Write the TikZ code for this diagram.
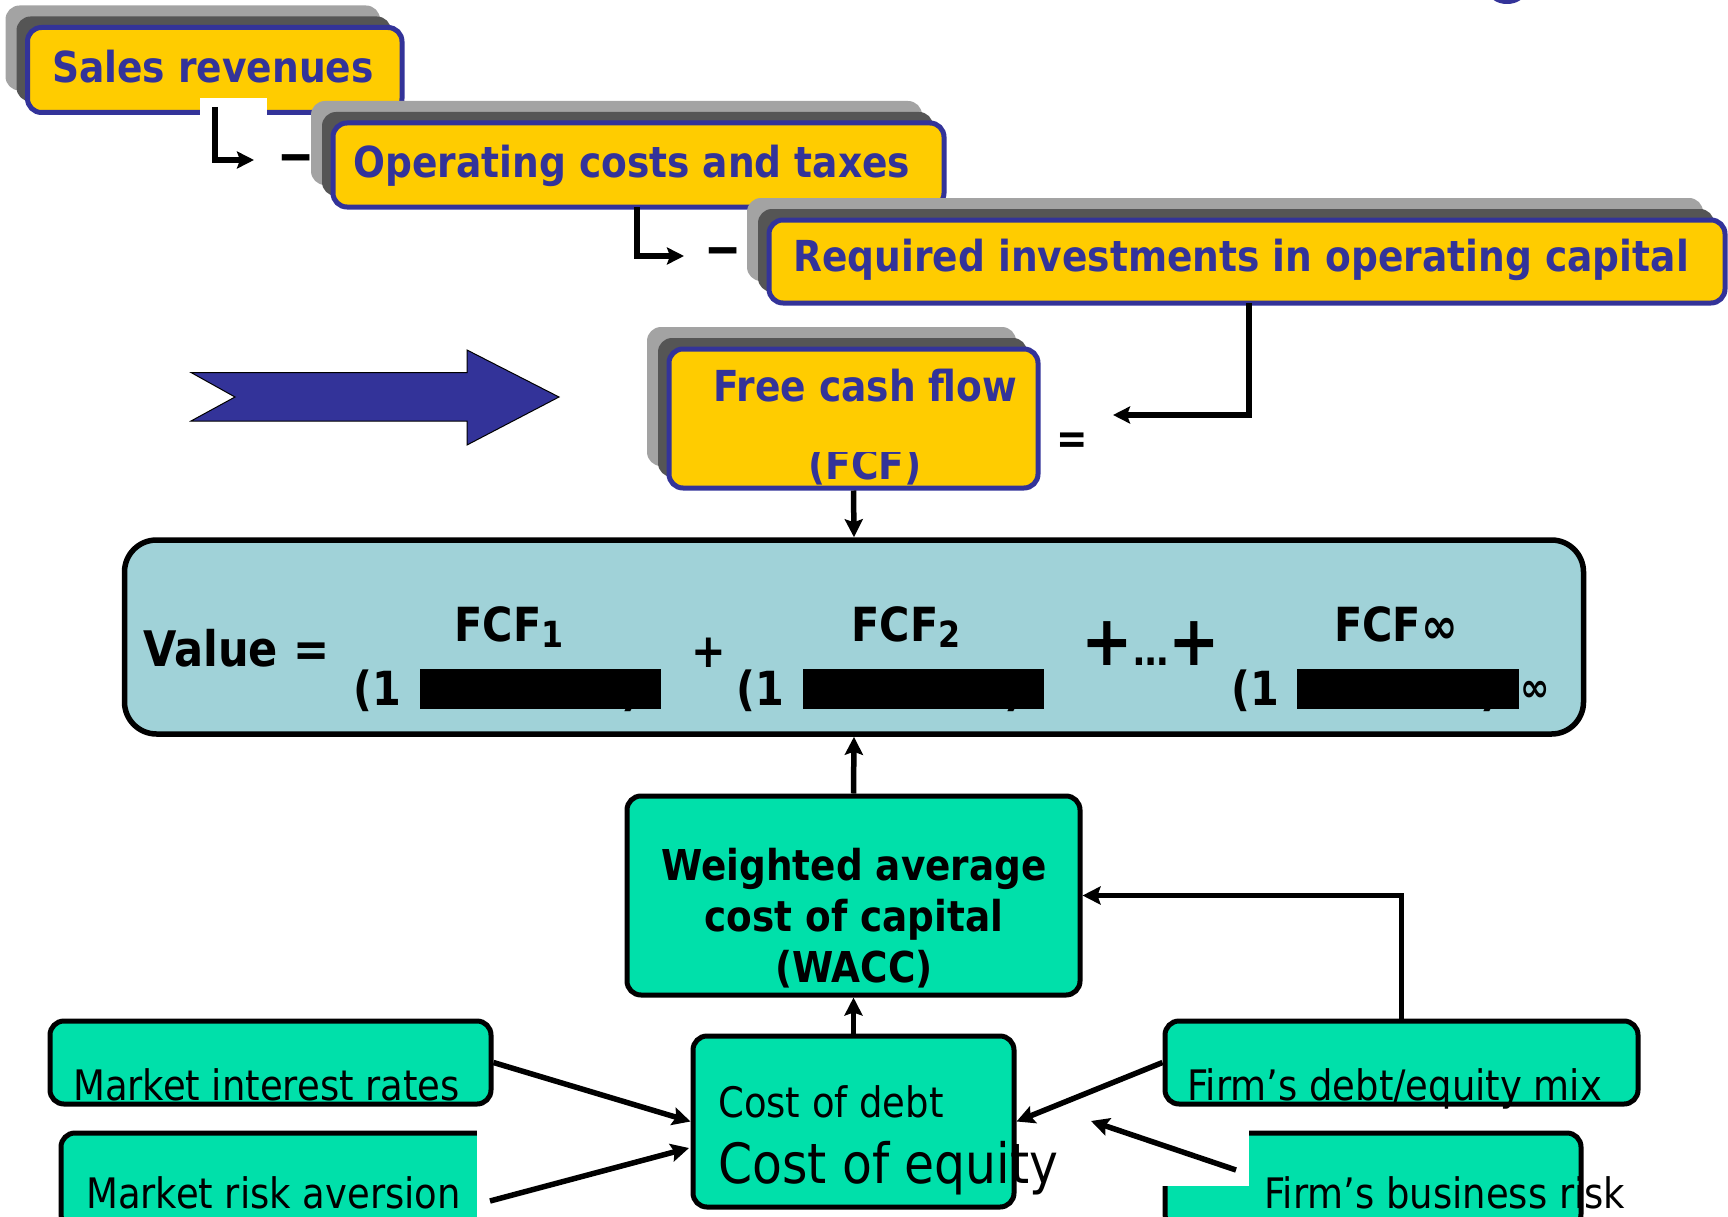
\documentclass[tikz,border=0pt]{standalone}
\usepackage{fontspec}
\setmainfont[FakeStretch=0.88]{DejaVu Sans}
\usetikzlibrary{arrows.meta,fit}
\definecolor{ylw}{HTML}{FFCC00}
\definecolor{navy}{HTML}{333399}
\definecolor{valfill}{HTML}{A0D2D8}
\definecolor{mint}{HTML}{00E0AA}
\definecolor{shl}{HTML}{A3A3A3}
\definecolor{shd}{HTML}{555555}
\tikzset{
  ybox/.style={draw=navy, fill=ylw, line width=5pt, rounded corners=14pt, inner sep=0pt},
  gbox/.style={draw=black, fill=mint, line width=5pt, rounded corners=14pt, inner sep=0pt},
  vbox/.style={draw=black, fill=valfill, line width=5.5pt, rounded corners=32pt, inner sep=0pt},
  hd/.style={font=\fontsize{42.7}{50}\selectfont\bfseries, text=navy, inner sep=0pt},
  vt/.style={font=\fontsize{47}{55}\selectfont\bfseries, text=black, inner sep=0pt},
  rg/.style={font=\fontsize{42}{50}\selectfont, text=black, inner sep=0pt},
  arr/.style={draw=black, line width=5.5pt, -{Stealth[length=18pt,width=18pt,inset=3pt]}},
  arrs/.style={draw=black, line width=5.5pt, -{Stealth[length=17pt,width=17pt,inset=3pt]}},
  blk/.style={fill=black},
  wht/.style={fill=white},
}
\newcommand{\shbox}[5]{%
  \fill[shl, rounded corners=14pt] ({#2-22},{#3-22}) rectangle ({#4-22},{#5-22});
  \fill[shd, rounded corners=14pt] ({#2-11},{#3-11}) rectangle ({#4-11},{#5-11});
  \node[ybox, fit={(#2,#3) (#4,#5)}] (#1) {};
}
\newcommand{\subs}[1]{\raisebox{-6pt}{\fontsize{36}{36}\selectfont #1}}
\begin{document}
\begin{tikzpicture}[x=1pt,y=-1pt]
\useasboundingbox (0,0) rectangle (1728,1217);
\clip (0,0) rectangle (1728,1217);
% top-right blue fragment
\fill[navy] (1507,-8) ellipse (18 and 12);

% yellow boxes
\shbox{sales}{27.5}{27.5}{402}{112.5}
\node[hd, anchor=base west] (tsales) at (52,83) {Sales revenues};
\fill[wht] (200,98) rectangle (267,126);
\shbox{oper}{333}{123}{944}{207}
\node[hd, anchor=base west] (toper) at (353,178) {Operating costs and taxes};
\shbox{req}{769}{220}{1725}{303}
\node[hd, anchor=base west] (treq) at (793,271) {Required investments in operating capital};
\shbox{fcf}{669}{349}{1038}{488}
\node[hd, anchor=base west] (tfcf) at (713,401) {Free cash flow};
\node[hd, anchor=base] (tfcf2) at (865,479) {(FCF)};
\fill[ylw] (790,436) rectangle (940,452);

% elbows and dashes
\coordinate (e1a) at (215,107);
\coordinate (e1b) at (254,160);
\draw[arrs] (e1a) |- (e1b);
\node[hd, text=black, font=\fontsize{50}{50}\selectfont\bfseries] (d1) at (296,163) {\scalebox{1.6}[1]{–}};
\coordinate (e2a) at (637,207);
\coordinate (e2b) at (684,256);
\draw[arrs] (e2a) |- (e2b);
\node[hd, text=black, font=\fontsize{50}{50}\selectfont\bfseries] (d2) at (723,256) {\scalebox{1.6}[1]{–}};
\coordinate (rqa) at (1249,303);
\coordinate (rqb) at (1113,415);
\draw[arrs] (rqa) |- (rqb);
\node[hd, text=black, anchor=base] (eq) at (1072,453) {=};

% big arrow
\filldraw[fill=navy, draw=black, line width=1pt]
  (191,372.5) -- (467,372.5) -- (467,350) -- (559,397) -- (467,445)
  -- (467,421) -- (191,421) -- (235,397) -- cycle;

% value box
\node[vbox, fit={(124.5,540) (1583.5,734)}] (value) {};
\node[vt, font=\fontsize{49}{55}\selectfont\bfseries, anchor=base west] (tval) at (143,666) {Value =};
\node[vt, anchor=base] (f1) at (509,641) {FCF\subs{1}};
\node[vt, anchor=base west] (p1) at (353,705) {(1};
\node[vt, anchor=base] (q1) at (631,705) {)};
\fill[blk] (420,669) rectangle (661,709);
\node[vt, anchor=base] (pl1) at (709,667) {+};
\node[vt, anchor=base] (f2) at (906,641) {FCF\subs{2}};
\node[vt, anchor=base west] (p2) at (736,705) {(1};
\node[vt, anchor=base] (q2) at (1014,705) {)};
\fill[blk] (803,669) rectangle (1044,709);
\node[anchor=base, inner sep=0pt] (pl2) at (1151,665) {\bfseries\fontsize{70}{70}\selectfont +\fontsize{40}{40}\selectfont…\fontsize{70}{70}\selectfont+};
\node[vt, anchor=base] (f3) at (1396,641) {FCF\raisebox{-2pt}{\fontsize{50}{50}\selectfont ∞}};
\node[vt, anchor=base west] (p3) at (1231,705) {(1};
\node[vt, anchor=base] (q3) at (1490,705) {)};
\fill[blk] (1297,669) rectangle (1519,709);
\node[vt, font=\fontsize{40}{40}\selectfont\bfseries] (inf) at (1535,691) {∞};

% WACC
\node[gbox, fit={(627,796) (1080,995)}] (wacc) {};
\node[font=\fontsize{42.5}{51}\selectfont\bfseries, align=center, inner sep=0pt] (twacc) at (854,918.5) {Weighted average\\cost of capital\\(WACC)};

% cost box
\node[gbox, fit={(693,1036) (1014,1207)}] (cost) {};
\node[rg, anchor=base west] (tcd) at (718,1117) {Cost of debt};
\node[rg, font=\fontsize{55.5}{60}\selectfont, anchor=base west] (tce) at (718,1183) {Cost of equity};

% left boxes
\node[gbox, fit={(50,1021) (491,1104)}] (mir) {};
\node[rg, anchor=base west] (tmir) at (73,1100) {Market interest rates};
\node[gbox, fit={(61,1133) (510,1228)}] (mra) {};
\fill[wht] (477,1128) rectangle (530,1217);
\node[rg, anchor=base west] (tmra) at (86,1208) {Market risk aversion};

% right boxes
\node[gbox, fit={(1165,1021) (1638,1104)}] (fde) {};
\node[rg, anchor=base west] (tfde) at (1187,1100) {Firm’s debt/equity mix};
\node[gbox, fit={(1165,1133) (1581,1228)}] (fbr) {};
\fill[wht] (1160,1128) rectangle (1249,1186);
\node[rg, anchor=base west] (tfbr) at (1264,1208) {Firm’s business risk};

% connectors
\draw[arr] (fcf.south) -- (value.north);
\draw[arr] (wacc.north) -- (value.south);
\draw[arr] (cost.north) -- (wacc.south);
\draw[arr] (fde.north) |- (wacc.east);
\draw[arr] (mir.east) -- (cost.west);
\coordinate (mra1) at (490,1201);
\coordinate (c1) at (689,1148);
\draw[arr] (mra1) -- (c1);
\draw[arr] (fde.west) -- (cost.east);
\coordinate (fbr1) at (1236,1170);
\coordinate (c2) at (1091,1121);
\draw[arr] (fbr1) -- (c2);
\end{tikzpicture}
\end{document}
